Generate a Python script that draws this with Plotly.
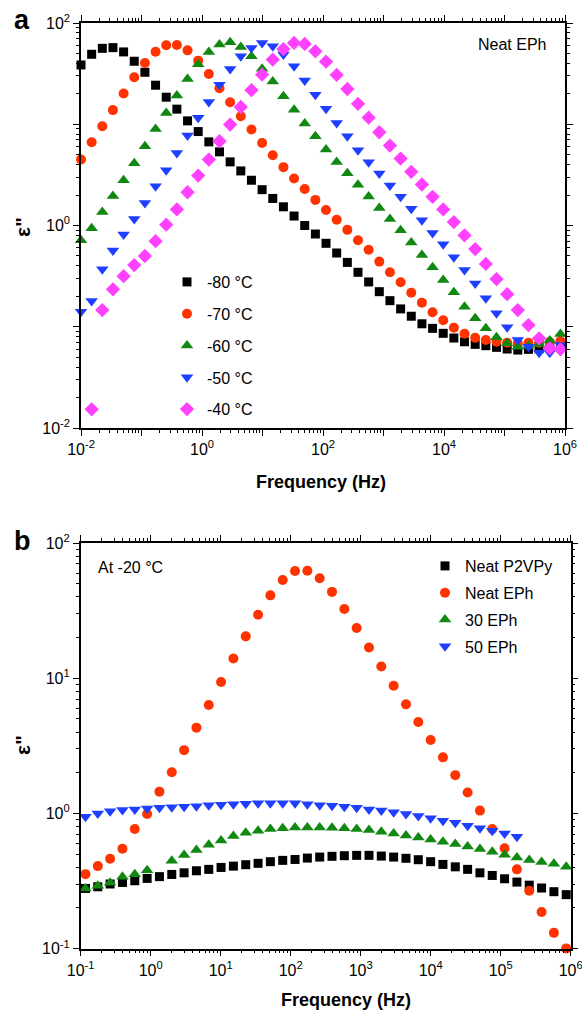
import plotly.graph_objects as go

# ---------------- Panel a : Neat EPh at several temperatures ----------------
freq_a = [0.01, 0.015, 0.0225, 0.03375, 0.0506, 0.0759, 0.1139, 0.1709, 0.2563, 0.3844,
          0.5767, 0.865, 1.2975, 1.946, 2.919, 4.379, 6.568, 9.853, 14.78, 22.17,
          33.25, 49.88, 74.82, 112.2, 168.3, 252.5, 378.8, 568.2, 852.3, 1278,
          1918, 2876, 4315, 6472, 9708, 14560, 21840, 32770, 49150, 73730,
          110600, 165900, 248800, 373300, 559900, 839800]

eps_m80 = [38.5, 49.1, 56.2, 57.1, 51.8, 41.9, 32.6, 24.3, 18.5, 14.1, 10.8, 8.47, 6.70, 5.34,
           4.25, 3.46, 2.80, 2.26, 1.85, 1.53, 1.24, 1.00, 0.824, 0.667, 0.535, 0.432, 0.345,
           0.277, 0.222, 0.181, 0.150, 0.127, 0.107, 0.0964, 0.0861, 0.0774, 0.0711, 0.0670,
           0.0650, 0.0626, 0.0603, 0.0589, 0.0598, 0.0607, 0.0621, 0.0636]
eps_m70 = [4.48, 6.64, 9.55, 13.8, 20.1, 29.1, 40.3, 52.1, 60.2, 60.7, 53.7, 42.5, 31.4, 22.7,
           16.5, 12.0, 8.86, 6.54, 4.95, 3.77, 2.91, 2.29, 1.79, 1.42, 1.14, 0.906, 0.715, 0.575,
           0.440, 0.345, 0.275, 0.217, 0.173, 0.139, 0.116, 0.098, 0.0853, 0.078, 0.074, 0.0711,
           0.0696, 0.0686, 0.0696, 0.0696, 0.0706, 0.0722]
eps_m60 = [0.716, 0.942, 1.36, 1.96, 2.80, 4.12, 6.07, 9.00, 12.9, 19.2, 28.0, 39.1, 51.8, 61.5,
           64.4, 57.9, 46.9, 35.4, 26.5, 18.9, 13.9, 10.2, 7.62, 5.62, 4.25, 3.28, 2.52, 1.93,
           1.49, 1.16, 0.90, 0.68, 0.512, 0.387, 0.290, 0.219, 0.158, 0.121, 0.0966, 0.0787,
           0.0686, 0.0636, 0.0646, 0.0676, 0.0730, 0.0849]
eps_m50 = [0.141, 0.180, 0.369, 0.567, 0.813, 1.16, 1.67, 2.44, 3.52, 5.21, 7.73, 11.6, 16.6,
           24.6, 35.2, 46.9, 56.6, 63.5, 58.9, 48.8, 37.3, 27.0, 19.6, 14.2, 10.3, 7.62, 5.54,
           4.22, 3.26, 2.48, 1.92, 1.46, 1.13, 0.845, 0.652, 0.485, 0.363, 0.268, 0.191, 0.136,
           0.0987, 0.074, 0.0636, 0.0554, 0.0554, 0.066]
eps_m40 = [None, 0.0153, 0.146, 0.234, 0.316, 0.407, 0.500, 0.70, 1.02, 1.44, 2.13, 3.11, 4.48,
           6.79, 9.93, 14.8, 21.7, 30.9, 43.5, 55.3, 63.5, 62.1, 52.5, 41.5, 30.7, 22.3, 15.9,
           11.6, 8.34, 6.16, 4.58, 3.39, 2.54, 1.92, 1.44, 1.08, 0.80, 0.585, 0.417, 0.296,
           0.210, 0.146, 0.104, 0.0769, 0.0612, 0.0598]

names_a = ["-80 °C", "-70 °C", "-60 °C", "-50 °C", "-40 °C"]

# ---------------- Panel b : samples at -20 °C ----------------
freq_b = [0.117, 0.1755, 0.263, 0.395, 0.592, 0.889, 1.333, 2.0, 3.0, 4.5,
          6.75, 10.12, 15.19, 22.78, 34.17, 51.25, 76.88, 115.3, 173.0, 259.5,
          389.2, 583.8, 875.7, 1314, 1970, 2956, 4434, 6650, 9976, 14960,
          22450, 33670, 50500, 75760, 113600, 170500, 255700, 383600, 575400, 863100]

eps_p2vpy = [0.279, 0.287, 0.301, 0.309, 0.318, 0.331, 0.341, 0.354, 0.364, 0.377, 0.386, 0.399,
             0.408, 0.418, 0.428, 0.440, 0.450, 0.457, 0.468, 0.476, 0.482, 0.487, 0.490, 0.490,
             0.484, 0.476, 0.466, 0.455, 0.440, 0.420, 0.403, 0.386, 0.364, 0.348, 0.329, 0.311,
             0.295, 0.281, 0.264, 0.251]
eps_eph = [0.356, 0.408, 0.463, 0.548, 0.767, 0.99, 1.45, 2.02, 2.94, 4.31, 6.34, 9.38, 14.0,
           20.4, 29.5, 41.0, 53.2, 62.1, 62.4, 54.8, 43.5, 32.5, 23.5, 16.9, 12.2, 8.81, 6.41,
           4.74, 3.49, 2.60, 1.92, 1.43, 1.05, 0.767, 0.552, 0.386, 0.268, 0.187, 0.131, 0.1005]
eps_30eph = [0.279, 0.292, 0.307, 0.341, 0.356, 0.381, None, 0.447, 0.492, 0.536, 0.587, 0.632,
             0.681, 0.720, 0.745, 0.767, 0.776, 0.789, 0.789, 0.789, 0.784, 0.776, 0.767, 0.754,
             0.732, 0.712, 0.688, 0.665, 0.642, 0.618, 0.594, 0.570, 0.545, 0.521, 0.495, 0.473,
             0.452, 0.437, 0.425, 0.403]
eps_50eph = [0.946, 1.0, 1.04, 1.06, 1.07, 1.09, 1.10, 1.11, 1.12, 1.13, 1.15, 1.16, 1.17, 1.18,
             1.19, 1.19, 1.19, 1.19, 1.17, 1.15, 1.14, 1.12, 1.10, 1.07, 1.05, 1.02, 0.99, 0.957,
             0.920, 0.884, 0.854, 0.811, 0.776, 0.745, 0.712, 0.673]

names_b = ["Neat P2VPy", "Neat EPh", "30 EPh", "50 EPh"]

# ---------------- styles ----------------
FONT = "Liberation Sans, Arial, sans-serif"
colors = ["#000000", "#FF3300", "#118811", "#1F3FFF", "#FF40FF"]
symbols = ["square", "circle", "triangle-up", "triangle-down", "diamond"]
sizes = [9, 10, 11, 11, 11]

fig = go.Figure()

series_a = [eps_m80, eps_m70, eps_m60, eps_m50, eps_m40]
for i, ys in enumerate(series_a):
    fig.add_trace(go.Scatter(
        x=freq_a, y=ys, mode="markers", name=names_a[i],
        marker=dict(symbol=symbols[i], color=colors[i], size=sizes[i], line=dict(width=0)),
        xaxis="x", yaxis="y", legend="legend", legendgroup="a%d" % i,
        cliponaxis=False))

series_b = [eps_p2vpy, eps_eph, eps_30eph, eps_50eph]
for i, ys in enumerate(series_b):
    fig.add_trace(go.Scatter(
        x=freq_b[:len(ys)], y=ys, mode="markers", name=names_b[i],
        marker=dict(symbol=symbols[i], color=colors[i], size=sizes[i], line=dict(width=0)),
        xaxis="x2", yaxis="y2", legend="legend2", legendgroup="b%d" % i,
        cliponaxis=False))


def sup(e):
    return "10<sup>%d</sup>" % e


def log_axis(lo, hi, labeled, domain, anchor):
    vals = [10.0 ** e for e in range(lo, hi + 1)]
    text = [sup(e) if e in labeled else "" for e in range(lo, hi + 1)]
    return dict(type="log", range=[lo, hi], domain=domain, anchor=anchor,
                automargin=False, ticklabeloverflow="allow",
                tickmode="array", tickvals=vals, ticktext=text,
                ticks="outside", ticklen=6, tickwidth=1.2, tickcolor="black",
                minor=dict(ticks="outside", ticklen=3, tickwidth=1, tickcolor="black",
                           dtick="D1", showgrid=False),
                showline=True, linecolor="black", linewidth=1.5, mirror="allticks",
                showgrid=False, zeroline=False,
                tickfont=dict(family=FONT, size=16, color="black"))


W, H = 582, 1012
fig.update_layout(
    template="none",
    width=W, height=H, autosize=False,
    margin=dict(l=0, r=0, t=0, b=0, autoexpand=False),
    paper_bgcolor="white", plot_bgcolor="white",
    font=dict(family=FONT, size=15, color="black"),
    xaxis=log_axis(-2, 6, [-2, 0, 2, 4, 6], [81 / W, 565 / W], "y"),
    yaxis=log_axis(-2, 2, [-2, 0, 2], [1 - 428 / H, 1 - 23 / H], "x"),
    xaxis2=log_axis(-1, 6, [-1, 0, 1, 2, 3, 4, 5, 6], [80.7 / W, 570.7 / W], "y2"),
    yaxis2=log_axis(-1, 2, [-1, 0, 1, 2], [1 - 948.7 / H, 1 - 543 / H], "x2"),
    legend=dict(x=167 / W, y=1 - 265 / H, xanchor="left", yanchor="top",
                bgcolor="rgba(0,0,0,0)", borderwidth=0, tracegroupgap=8,
                font=dict(family=FONT, size=16, color="black")),
    legend2=dict(x=425 / W, y=1 - 549 / H, xanchor="left", yanchor="top",
                 bgcolor="rgba(0,0,0,0)", borderwidth=0, tracegroupgap=3,
                 font=dict(family=FONT, size=16, color="black")),
)

ann = []
def add_text(txt, x, y, size, bold=False, xanchor="center", angle=0):
    ann.append(dict(text=("<b>%s</b>" % txt) if bold else txt, x=x / W, y=1 - y / H,
                    xref="paper", yref="paper", xanchor=xanchor, yanchor="middle",
                    showarrow=False, textangle=angle,
                    font=dict(family=FONT, size=size, color="black")))

add_text("a", 12, 20, 27, bold=True, xanchor="left")
add_text("b", 12, 541, 27, bold=True, xanchor="left")
add_text("Neat EPh", 548, 45, 16, xanchor="right")
add_text("At -20 °C", 96, 567, 16, xanchor="left")
add_text("Frequency (Hz)", 321, 482, 18, bold=True)
add_text("Frequency (Hz)", 346, 1000, 18, bold=True)
add_text("ε\"", 22, 227, 21, bold=True, angle=-90)
add_text("ε\"", 22, 745, 21, bold=True, angle=-90)
fig.update_layout(annotations=ann)

fig.write_html("out.html", config={"displayModeBar": False},
               post_script="document.body.style.margin='0px';document.body.style.overflow='hidden';")
